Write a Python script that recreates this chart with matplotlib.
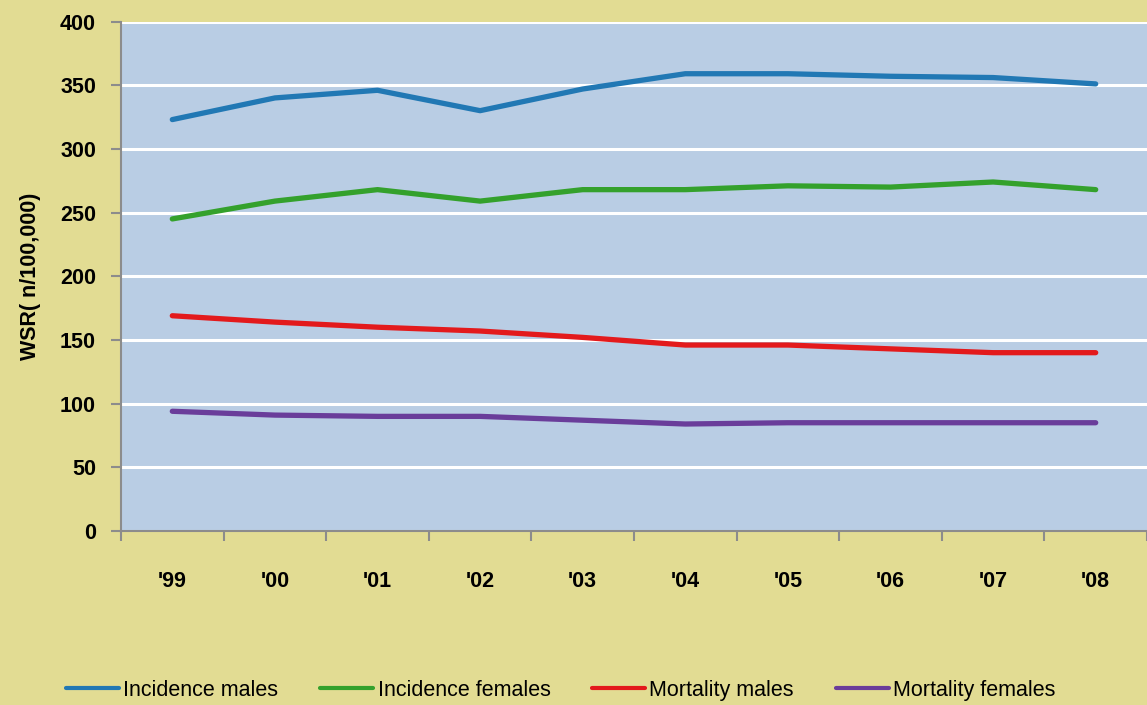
import matplotlib
matplotlib.use("Agg")
import matplotlib.pyplot as plt
from matplotlib.ticker import FixedLocator, NullFormatter

years = ["'99", "'00", "'01", "'02", "'03", "'04", "'05", "'06", "'07", "'08"]
incidence_males = [323, 340, 346, 330, 347, 359, 359, 357, 356, 351]
incidence_females = [245, 259, 268, 259, 268, 268, 271, 270, 274, 268]
mortality_males = [169, 164, 160, 157, 152, 146, 146, 143, 140, 140]
mortality_females = [94, 91, 90, 90, 87, 84, 85, 85, 85, 85]
y_ticks = [0, 50, 100, 150, 200, 250, 300, 350, 400]

series = [
    ("Incidence males", incidence_males, "#2178b4"),
    ("Incidence females", incidence_females, "#34a12c"),
    ("Mortality males", mortality_males, "#e31a1c"),
    ("Mortality females", mortality_females, "#6a3d9a"),
]

FONT = ["Liberation Sans", "DejaVu Sans"]
plt.rcParams["font.family"] = FONT

fig = plt.figure(figsize=(11.47, 7.05), dpi=100, facecolor="#e2dc93")
ax = fig.add_axes([0.1055, 0.2468, 0.8945, 0.7227])
ax.set_facecolor("#b9cde4")

x = list(range(len(years)))
for name, vals, col in series:
    ax.plot(x, vals, color=col, lw=3.8, solid_capstyle="round",
            solid_joinstyle="round", label=name, zorder=3)

ax.set_ylim(0, 400)
ax.set_xlim(-0.5, len(years) - 0.5)
ax.set_yticks(y_ticks)
ax.set_yticklabels([str(v) for v in y_ticks], fontsize=15.5, fontweight="bold")
ax.yaxis.grid(True, color="white", lw=2.2, zorder=1)
ax.set_axisbelow(True)

ax.set_xticks(x)
ax.set_xticklabels(years, fontsize=15.5, fontweight="bold")
ax.xaxis.set_minor_locator(FixedLocator([i - 0.5 for i in range(len(years) + 1)]))
ax.xaxis.set_minor_formatter(NullFormatter())
ax.tick_params(axis="x", which="major", length=0, pad=29)
ax.tick_params(axis="x", which="minor", length=7, width=1.5, color="#8c8c8c", direction="out")
ax.tick_params(axis="y", length=7, width=1.5, color="#8c8c8c", direction="out", pad=11)

for s in ["top", "right"]:
    ax.spines[s].set_visible(False)
for s in ["left", "bottom"]:
    ax.spines[s].set_color("#8c8c8c")
    ax.spines[s].set_linewidth(1.5)

ax.set_ylabel("WSR( n/100,000)", fontsize=15.5, fontweight="bold", labelpad=14)

handles, labels = ax.get_legend_handles_labels()
leg = fig.legend(handles, labels, loc="center", bbox_to_anchor=(0.489, 0.021), ncol=4,
                 frameon=False, fontsize=15.5, handlelength=2.45, handletextpad=0.2,
                 columnspacing=1.95)
for h in leg.get_lines():
    h.set_linewidth(3)

fig.savefig("out.png", dpi=100, facecolor=fig.get_facecolor())
